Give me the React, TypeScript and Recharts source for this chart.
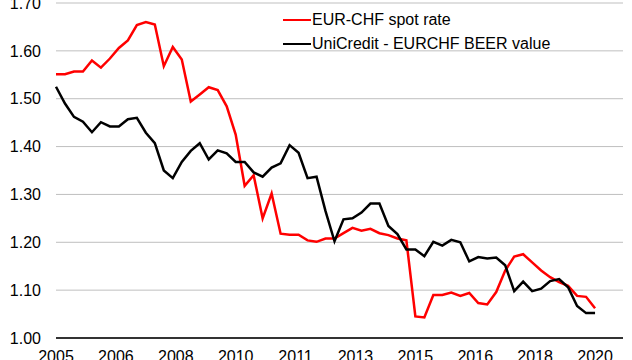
import { LineChart, Line, XAxis, YAxis, CartesianGrid } from 'recharts';

// Quarterly observations, 2005 Q1 .. 2020 Q1
const START_YEAR = 2005;

const spotRate = [
  1.551, 1.551, 1.557, 1.557, 1.58, 1.565, 1.584, 1.606, 1.622, 1.654,
  1.66, 1.655, 1.568, 1.608, 1.582, 1.494, 1.509, 1.524, 1.518, 1.484,
  1.425, 1.318, 1.34, 1.25, 1.302, 1.218, 1.216, 1.216, 1.204, 1.201,
  1.208, 1.208, 1.219, 1.23, 1.224, 1.228, 1.219, 1.215, 1.208, 1.204,
  1.045, 1.043, 1.09, 1.09, 1.095, 1.088, 1.094, 1.073, 1.07, 1.096,
  1.141, 1.17, 1.175, 1.158, 1.141, 1.127, 1.117, 1.109, 1.088, 1.086,
  1.062,
];

const beerValue = [
  1.525, 1.49, 1.462, 1.452, 1.43, 1.451, 1.442, 1.442, 1.457, 1.46,
  1.429, 1.407, 1.35, 1.334, 1.368, 1.391, 1.407, 1.373, 1.392, 1.386,
  1.368, 1.368, 1.346, 1.337, 1.356, 1.365, 1.403, 1.387, 1.334, 1.337,
  1.265, 1.202, 1.248, 1.25, 1.262, 1.281, 1.281, 1.234, 1.217, 1.185,
  1.185, 1.171, 1.201, 1.193, 1.205, 1.2, 1.16, 1.169, 1.166, 1.168,
  1.152, 1.098, 1.118, 1.098, 1.103, 1.119, 1.123, 1.106, 1.067, 1.052,
  1.052,
];

// x labels every 20 months (date axis)
const xTickLabels = ['2005', '2006', '2008', '2010', '2011', '2013', '2015', '2016', '2018', '2020'];
const yTicks = [1.0, 1.1, 1.2, 1.3, 1.4, 1.5, 1.6, 1.7];

const legendItems = [
  { label: 'EUR-CHF spot rate', color: '#ff0000' },
  { label: 'UniCredit - EURCHF BEER value', color: '#000000' },
];

const data = spotRate.map((v, i) => ({
  t: START_YEAR + i / 4,
  spot: v,
  beer: beerValue[i],
}));

const xTicks = xTickLabels.map((_, k) => START_YEAR + (k * 20) / 12);

const FONT = 'Arial, "Liberation Sans", sans-serif';

export default function App() {
  return (
    <div style={{ position: 'relative', width: 632, height: 360, background: '#fff', overflow: 'hidden' }}>
      <style>{'body{margin:0}'}</style>
      <LineChart
        width={632}
        height={360}
        data={data}
        margin={{ top: 3, right: 9, left: 0, bottom: 0 }}
      >
        <CartesianGrid vertical={false} stroke="#bfbfbf" strokeWidth={1} />
        <XAxis
          dataKey="t"
          type="number"
          domain={[START_YEAR, 2020 + 28 / 36]}
          ticks={xTicks}
          interval={0}
          tickFormatter={(v: number) => xTickLabels[Math.round(((v - START_YEAR) * 12) / 20)]}
          height={22}
          tickSize={0}
          tickMargin={13}
          tickLine={false}
          axisLine={{ stroke: '#333333', strokeWidth: 2 }}
          tick={{ fill: '#000', fontSize: 16, fontFamily: FONT }}
        />
        <YAxis
          domain={[1.0, 1.7]}
          ticks={yTicks}
          interval={0}
          width={56}
          tickSize={0}
          tickMargin={15}
          tickLine={false}
          axisLine={false}
          tickFormatter={(v: number) => v.toFixed(2)}
          tick={{ fill: '#000', fontSize: 16, fontFamily: FONT }}
        />
        <Line
          type="linear"
          dataKey="spot"
          name="EUR-CHF spot rate"
          stroke="#ff0000"
          strokeWidth={2.5}
          dot={false}
          isAnimationActive={false}
        />
        <Line
          type="linear"
          dataKey="beer"
          name="UniCredit - EURCHF BEER value"
          stroke="#000000"
          strokeWidth={2.5}
          dot={false}
          isAnimationActive={false}
        />
      </LineChart>
      {/* Legend overlay, top right inside the plot */}
      <div
        style={{
          position: 'absolute',
          top: 8,
          left: 283,
          fontFamily: FONT,
          fontSize: 16,
          color: '#000',
        }}
      >
        {legendItems.map((it) => (
          <div key={it.label} style={{ display: 'flex', alignItems: 'center', height: 24, whiteSpace: 'nowrap' }}>
            <div style={{ width: 28, height: 2.5, background: it.color, marginRight: 1 }} />
            <span>{it.label}</span>
          </div>
        ))}
      </div>
    </div>
  );
}
